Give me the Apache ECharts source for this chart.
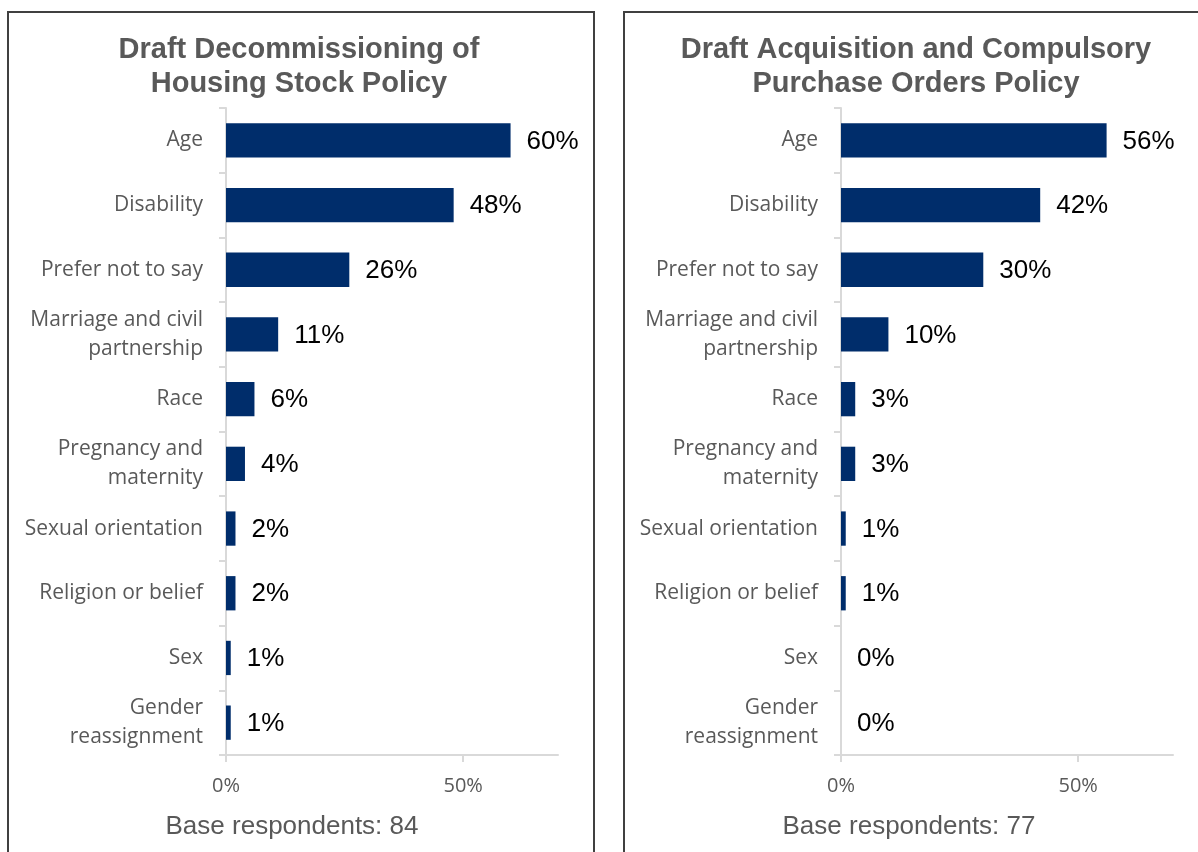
<!DOCTYPE html>
<html>
<head>
<meta charset="utf-8">
<script src="https://cdn.jsdelivr.net/npm/echarts@6/dist/echarts.min.js"></script>
<style>
  html, body { margin: 0; padding: 0; background: #ffffff; }
  #chart { width: 1198px; height: 852px; }
</style>
</head>
<body>
<div id="chart"></div>
<script>
// Equality characteristics cited by respondents, per draft policy
const categories = [
  'Age',
  'Disability',
  'Prefer not to say',
  'Marriage and civil\npartnership',
  'Race',
  'Pregnancy and\nmaternity',
  'Sexual orientation',
  'Religion or belief',
  'Sex',
  'Gender\nreassignment'
];
const decommissioningValues = [60, 48, 26, 11, 6, 4, 2, 2, 1, 1];
const acquisitionValues = [56, 42, 30, 10, 3, 3, 1, 1, 0, 0];

const panelTitles = [
  'Draft Decommissioning of\nHousing Stock Policy',
  'Draft Acquisition and Compulsory\nPurchase Orders Policy'
];
const baseRespondents = ['Base respondents: 84', 'Base respondents: 77'];
const xTickValues = [0, 50];

const BAR_COLOR = '#002D6B';
const AXIS_GRAY = '#D9D9D9';
const TEXT_GRAY = '#595959';
const CAT_FONT = '"Open Sans", "Noto Sans", sans-serif';
const ARIAL = '"Liberation Sans", Arial, sans-serif';

const grids = [
  { left: 226, top: 108, width: 332, height: 647 },
  { left: 841, top: 108, width: 332, height: 647 }
];

function xAxisFor(i) {
  return {
    type: 'value',
    gridIndex: i,
    min: 0,
    max: 70,
    interval: 50,
    splitLine: { show: false },
    axisLine: { show: true, lineStyle: { color: AXIS_GRAY, width: 2 } },
    axisTick: { show: true, length: 7, lineStyle: { color: AXIS_GRAY, width: 2 }, customValues: xTickValues },
    axisLabel: {
      customValues: xTickValues,
      formatter: v => v + '%',
      color: TEXT_GRAY,
      fontFamily: CAT_FONT,
      fontSize: 20,
      margin: 21
    }
  };
}

function yAxisFor(i) {
  return {
    type: 'category',
    gridIndex: i,
    data: categories,
    inverse: true,
    axisLine: { show: true, lineStyle: { color: AXIS_GRAY, width: 2 } },
    axisTick: { show: true, alignWithLabel: false, length: 7, lineStyle: { color: AXIS_GRAY, width: 2 } },
    axisLabel: {
      color: TEXT_GRAY,
      fontFamily: CAT_FONT,
      fontSize: 21,
      lineHeight: 29,
      margin: 23,
      align: 'right'
    }
  };
}

function seriesFor(i, values) {
  return {
    type: 'bar',
    xAxisIndex: i,
    yAxisIndex: i,
    data: values,
    barCategoryGap: '47%',
    itemStyle: { color: BAR_COLOR },
    label: {
      show: true,
      position: 'right',
      distance: 16,
      offset: [0, 1],
      formatter: p => p.value + '%',
      color: '#000000',
      fontFamily: ARIAL,
      fontSize: 26
    }
  };
}

const chart = echarts.init(document.getElementById('chart'), null, { renderer: 'canvas' });

chart.setOption({
  animation: false,
  backgroundColor: '#ffffff',
  title: [
    {
      text: panelTitles[0], left: 294, top: 28, textAlign: 'center',
      textStyle: { color: TEXT_GRAY, fontFamily: ARIAL, fontWeight: 'bold', fontSize: 29, lineHeight: 34 }
    },
    {
      text: panelTitles[1], left: 911, top: 28, textAlign: 'center',
      textStyle: { color: TEXT_GRAY, fontFamily: ARIAL, fontWeight: 'bold', fontSize: 29, lineHeight: 34 }
    },
    {
      text: baseRespondents[0], left: 287, top: 809, textAlign: 'center',
      textStyle: { color: TEXT_GRAY, fontFamily: ARIAL, fontWeight: 'normal', fontSize: 26 }
    },
    {
      text: baseRespondents[1], left: 904, top: 809, textAlign: 'center',
      textStyle: { color: TEXT_GRAY, fontFamily: ARIAL, fontWeight: 'normal', fontSize: 26 }
    }
  ],
  graphic: [
    {
      type: 'rect', silent: true, z: -1,
      shape: { x: 8, y: 12, width: 586, height: 860 },
      style: { fill: 'none', stroke: '#404040', lineWidth: 2 }
    },
    {
      type: 'rect', silent: true, z: -1,
      shape: { x: 624, y: 12, width: 600, height: 860 },
      style: { fill: 'none', stroke: '#404040', lineWidth: 2 }
    }
  ],
  grid: grids,
  xAxis: [xAxisFor(0), xAxisFor(1)],
  yAxis: [yAxisFor(0), yAxisFor(1)],
  series: [seriesFor(0, decommissioningValues), seriesFor(1, acquisitionValues)]
});
</script>
</body>
</html>
